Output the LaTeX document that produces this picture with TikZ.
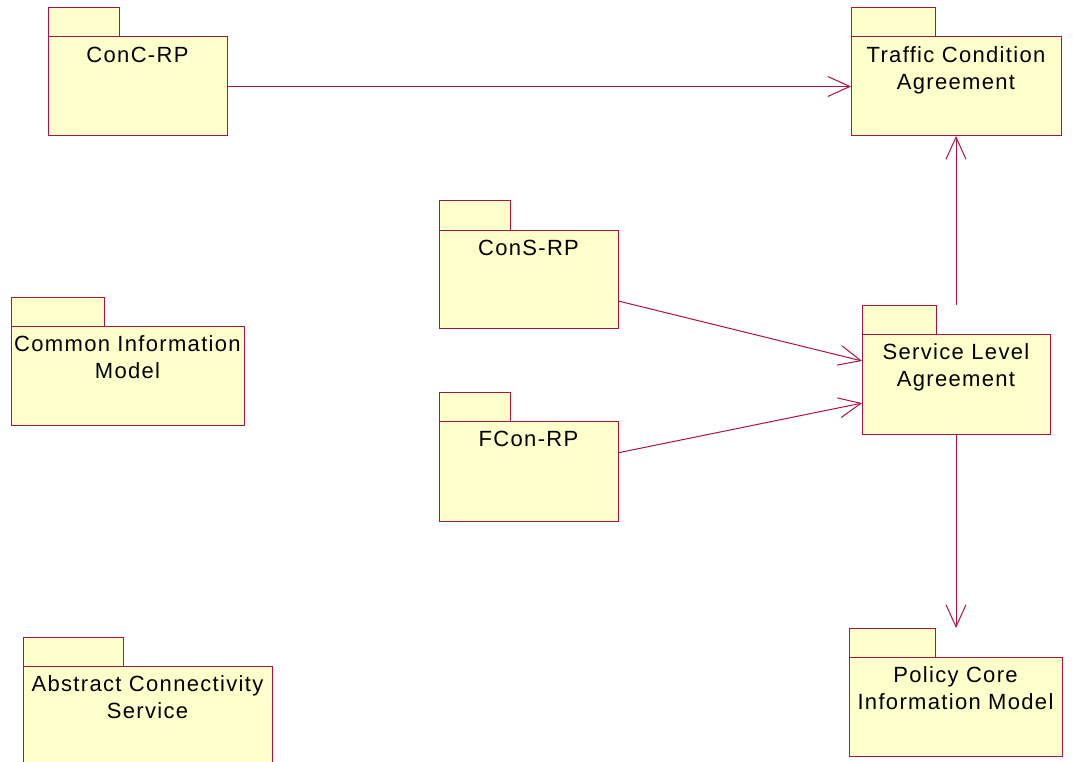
\documentclass[tikz,border=0pt]{standalone}
\usepackage{fontspec}
\setmainfont{Liberation Sans}[LetterSpace=6]
\usetikzlibrary{arrows.meta}
\definecolor{pkgfill}{RGB}{255,255,204}
\definecolor{pkgedge}{RGB}{168,20,68}
\tikzset{
  pkgline/.style={draw=pkgedge, line width=1pt, fill=pkgfill},
  pkgbody/.style={pkgline, rectangle, inner sep=0pt, outer sep=0pt},
  pkgtext/.style={inner sep=0pt, anchor=north, align=center,
    font=\fontsize{22}{27}\selectfont},
  dep/.style={draw=pkgedge, line width=1pt,
    -{Straight Barb[length=22pt,width=20pt]}},
}
% UML package: name, left x, top of tab, body width, tab width, body height, title
\newcommand\umlpkg[7]{%
  \node[pkgbody, anchor=north west, minimum width=#4, minimum height=#6]
    (#1b) at (#2,#3+29) {};
  \draw[pkgline] (#1b.north west) rectangle ++(#5,-29);
  \node[inner sep=0pt, outer sep=0pt, anchor=north west,
    minimum width=#4, minimum height=#6+29] (#1) at (#2,#3) {};
  \node[pkgtext] (#1t) at ([yshift=-9pt]#1b.north) {\rule{0pt}{16pt}#7};
}
\begin{document}
\begin{tikzpicture}[x=1pt, y=-1pt]
  \useasboundingbox (0,0) rectangle (1073,762);
  \clip (0,0) rectangle (1073,762);

  \umlpkg{conc}{48}{8}{179}{71}{99}{ConC-RP}
  \umlpkg{tca}{851}{8}{210}{84}{99}{Traffic Condition\\Agreement}
  \umlpkg{cons}{439}{201}{179}{71}{98}{ConS-RP}
  \umlpkg{cim}{11}{297}{233}{93}{99}{Common Information\\Model}
  \umlpkg{sla}{862}{305}{188}{74}{100}{Service Level\\Agreement}
  \umlpkg{fcon}{439}{392}{179}{71}{100}{FCon-RP}
  \umlpkg{acs}{23}{637}{249}{100}{99}{Abstract Connectivity\\Service}
  \umlpkg{pcim}{849}{628}{213}{86}{99}{Policy Core\\Information Model}

  % dependencies
  \draw[dep] (concb) -- (tcab);
  \draw[dep] (consb) -- (slab);
  \draw[dep] (fconb) -- (slab);
  \draw[dep] (sla) -- (tca);
  \draw[dep] (sla) -- (sla |- pcim.north);
\end{tikzpicture}
\end{document}
